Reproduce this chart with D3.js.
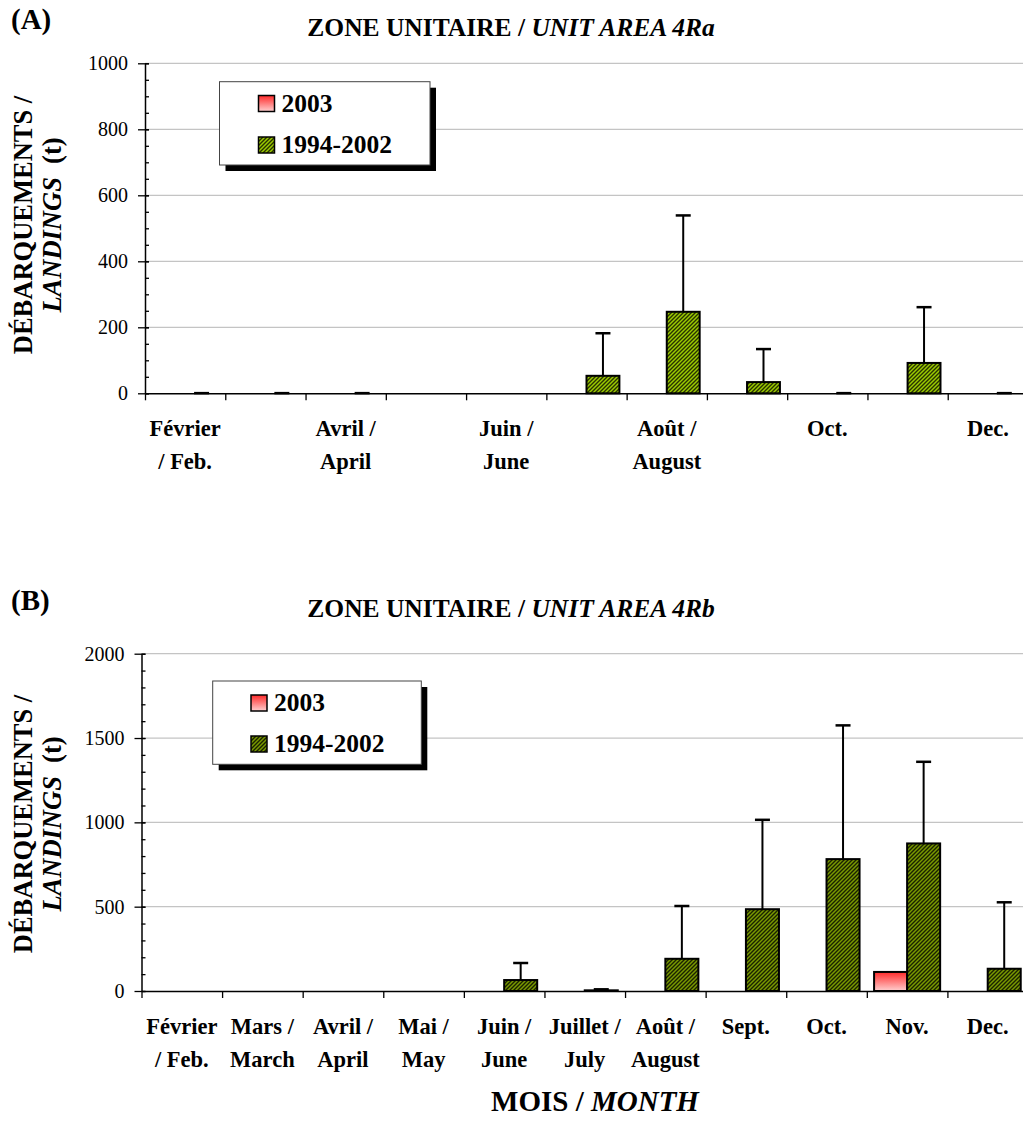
<!DOCTYPE html>
<html>
<head>
<meta charset="utf-8">
<script src="https://cdn.jsdelivr.net/npm/d3@7"></script>
<style>
  html, body { margin: 0; padding: 0; background: #fff; }
  svg { display: block; font-family: "Liberation Serif", "Times New Roman", serif; }
  svg text { font-family: "Liberation Serif", "Times New Roman", serif; }
</style>
</head>
<body>
<svg id="chart" width="1023" height="1123"></svg>
<script>
// Months shown on the x axis (two-line labels)
const monthLines = [
  ["Février", "/ Feb."], ["Mars /", "March"], ["Avril /", "April"], ["Mai /", "May"],
  ["Juin /", "June"], ["Juillet /", "July"], ["Août /", "August"], ["Sept.", ""],
  ["Oct.", ""], ["Nov.", ""], ["Dec.", ""]
];

// Unit area 4Ra: monthly landings (t)
const landingsA2003 = [null, null, null, null, null, null, null, null, null, null, null];
const meanA9402     = [0, 0, 0, null, null, 53, 247, 34, 0, 92, 0];
const sdA9402       = [0.5, 0.5, 0.5, null, null, 129, 292, 100, 0.5, 169, 0.5];
const yTicksA = [0, 200, 400, 600, 800, 1000];

// Unit area 4Rb: monthly landings (t)
const landingsB2003 = [null, null, null, null, null, null, null, null, null, 113, null];
const meanB9402     = [null, null, null, null, 65, 4, 191, 485, 782, 875, 132];
const sdB9402       = [null, null, null, null, 101, 6, 313, 530, 793, 484, 394];
const yTicksB = [0, 500, 1000, 1500, 2000];

const seriesNames = ["2003", "1994-2002"];

const SERIF = "Liberation Serif, Times New Roman, serif";

const svg = d3.select("#chart");
svg.append("rect").attr("width", 1023).attr("height", 1123).attr("fill", "#fff");

const defs = svg.append("defs");

// Vertical red-to-pink gradient for the 2003 series
const grad = defs.append("linearGradient").attr("id", "grad2003")
  .attr("x1", 0).attr("y1", 0).attr("x2", 0).attr("y2", 1);
grad.append("stop").attr("offset", "0%").attr("stop-color", "#ff2a2a");
grad.append("stop").attr("offset", "100%").attr("stop-color", "#ffd0d0");

// Upward diagonal hatching for the 1994-2002 series
function hatch(id, light, dark) {
  const p = defs.append("pattern").attr("id", id)
    .attr("patternUnits", "userSpaceOnUse").attr("width", 4).attr("height", 4);
  p.append("rect").attr("width", 4).attr("height", 4).attr("fill", light);
  p.append("path").attr("d", "M-1,1 L1,-1 M0,4 L4,0 M3,5 L5,3")
    .attr("stroke", dark).attr("stroke-width", 1.4);
}
hatch("hatchA", "#9ccc00", "#283200");
hatch("hatchB", "#7a9a00", "#1a2200");

function drawPanel(o) {
  const g = svg.append("g");
  const n = monthLines.length;
  const x = d3.scaleBand().domain(d3.range(n)).range([o.x0, o.x1]).paddingInner(0).paddingOuter(0);
  const xb = d3.scaleLinear().domain([0, n]).range([o.x0, o.x1]);
  const sub = d3.scaleBand().domain([0, 1]).range([0, x.bandwidth()]).paddingOuter(0.22).paddingInner(0);
  const y = d3.scaleLinear().domain([0, o.yMax]).range([o.yBottom, o.yTop]);

  // Panel letter and title
  g.append("text").attr("x", 11).attr("y", o.yTitle - 7)
    .attr("font-size", 29).attr("font-weight", "bold").text(o.letter);
  const t = g.append("text").attr("x", 511).attr("y", o.yTitle)
    .attr("text-anchor", "middle").attr("font-size", 25.5).attr("font-weight", "bold");
  t.append("tspan").text("ZONE UNITAIRE / ");
  t.append("tspan").attr("font-style", "italic").text(o.area);

  // Gridlines
  g.append("g").selectAll("line").data(o.ticks.filter(d => d > 0)).join("line")
    .attr("x1", o.x0).attr("x2", o.x1)
    .attr("y1", d => y(d)).attr("y2", d => y(d))
    .attr("stroke", "#c4c4c4").attr("stroke-width", 1.3);

  // Minor y ticks
  g.append("g").attr("transform", `translate(${o.x0},0)`)
    .call(d3.axisLeft(y).tickValues(d3.range(0, o.yMax + 1, o.minor)).tickSize(-4).tickFormat(""))
    .call(a => a.select(".domain").remove())
    .call(a => a.selectAll("line").attr("stroke", "#000").attr("stroke-width", 1.3));

  // Major y ticks and labels
  g.append("g").attr("transform", `translate(${o.x0},0)`)
    .call(d3.axisLeft(y).tickValues(o.ticks).tickSize(7).tickPadding(10).tickSizeOuter(0).tickFormat(d3.format("d")))
    .attr("font-family", SERIF).attr("font-size", 20)
    .call(a => a.select(".domain").attr("stroke", "#000").attr("stroke-width", 1.5))
    .call(a => a.selectAll(".tick line").attr("x1", 4).attr("stroke", "#000").attr("stroke-width", 1.3))
    .call(a => a.selectAll("text").attr("fill", "#000"));

  // Y axis title
  const yc = o.yLabelCenter;
  g.append("text").attr("transform", `translate(32,${yc}) rotate(-90)`)
    .attr("text-anchor", "middle").attr("font-size", 26.5).attr("font-weight", "bold")
    .text("DÉBARQUEMENTS /");
  const yl = g.append("text").attr("transform", `translate(61,${yc}) rotate(-90)`)
    .attr("text-anchor", "middle").attr("font-size", 26.5).attr("font-weight", "bold");
  yl.append("tspan").attr("font-style", "italic").text("LANDINGS");
  yl.append("tspan").text("\u00a0\u00a0(t)");

  // Bars: 2003
  const cat = d3.range(n);
  g.append("g").selectAll("rect").data(cat.filter(i => o.s2003[i] != null && o.s2003[i] > 0)).join("rect")
    .attr("x", i => x(i) + sub(0)).attr("width", sub.bandwidth())
    .attr("y", i => y(o.s2003[i])).attr("height", i => y(0) - y(o.s2003[i]))
    .attr("fill", "url(#grad2003)").attr("stroke", "#000").attr("stroke-width", 2);

  // Bars: 1994-2002 mean
  g.append("g").selectAll("rect").data(cat.filter(i => o.mean[i] != null && o.mean[i] > 0)).join("rect")
    .attr("x", i => x(i) + sub(1)).attr("width", sub.bandwidth())
    .attr("y", i => y(o.mean[i])).attr("height", i => y(0) - y(o.mean[i]))
    .attr("fill", `url(#${o.hatch})`).attr("stroke", "#000").attr("stroke-width", 2);

  // Upper error bars (mean + SD)
  const eb = g.append("g").selectAll("g").data(cat.filter(i => o.mean[i] != null)).join("g");
  const cx = i => x(i) + sub(1) + sub.bandwidth() / 2;
  eb.append("line").attr("x1", cx).attr("x2", cx)
    .attr("y1", i => y(o.mean[i])).attr("y2", i => y(o.mean[i] + o.sd[i]))
    .attr("stroke", "#000").attr("stroke-width", 2);
  eb.append("line").attr("x1", i => cx(i) - 7.5).attr("x2", i => cx(i) + 7.5)
    .attr("y1", i => y(o.mean[i] + o.sd[i])).attr("y2", i => y(o.mean[i] + o.sd[i]))
    .attr("stroke", "#000").attr("stroke-width", 2.5);

  // X axis with ticks at month boundaries
  g.append("g").attr("transform", `translate(0,${o.yBottom})`)
    .call(d3.axisBottom(xb).tickValues(d3.range(n + 1)).tickSize(7).tickSizeOuter(0).tickFormat(""))
    .call(a => a.select(".domain").attr("stroke", "#000").attr("stroke-width", 1.5))
    .call(a => a.selectAll(".tick line").attr("stroke", "#000").attr("stroke-width", 1.3));

  // Month labels
  const lab = g.append("g").selectAll("text").data(cat.filter(i => i % o.labelEvery === 0)).join("text")
    .attr("text-anchor", "middle").attr("font-size", 22.5).attr("font-weight", "bold");
  lab.append("tspan").attr("x", i => x(i) + x.bandwidth() / 2).attr("y", o.yBottom + 43).text(i => monthLines[i][0]);
  lab.append("tspan").attr("x", i => x(i) + x.bandwidth() / 2).attr("y", o.yBottom + 76).text(i => monthLines[i][1]);

  // Legend with drop shadow
  const L = o.legend;
  g.append("rect").attr("x", L.x + 6).attr("y", L.y + 6).attr("width", L.w).attr("height", L.h).attr("fill", "#000");
  g.append("rect").attr("x", L.x).attr("y", L.y).attr("width", L.w).attr("height", L.h)
    .attr("fill", "#fff").attr("stroke", "#444").attr("stroke-width", 1);
  const fills = ["url(#grad2003)", `url(#${o.hatch})`];
  seriesNames.forEach((s, k) => {
    g.append("rect").attr("x", L.sx).attr("y", L.rows[k] - 16).attr("width", 16).attr("height", 16)
      .attr("fill", fills[k]).attr("stroke", "#000").attr("stroke-width", 1.5);
    g.append("text").attr("x", L.sx + 23).attr("y", L.rows[k]).attr("font-size", 25.5)
      .attr("font-weight", "bold").text(s);
  });
}

drawPanel({
  letter: "(A)", area: "UNIT AREA 4Ra", yTitle: 36,
  x0: 145, x1: 1028, yTop: 63.3, yBottom: 393.3, yMax: 1000, ticks: yTicksA, minor: 50,
  s2003: landingsA2003, mean: meanA9402, sd: sdA9402, hatch: "hatchA",
  labelEvery: 2, yLabelCenter: 225,
  legend: { x: 219.5, y: 81.7, w: 210.5, h: 83.3, sx: 258.5, rows: [111.5, 153] }
});

drawPanel({
  letter: "(B)", area: "UNIT AREA 4Rb", yTitle: 617,
  x0: 141.5, x1: 1028, yTop: 653.7, yBottom: 991, yMax: 2000, ticks: yTicksB, minor: 100,
  s2003: landingsB2003, mean: meanB9402, sd: sdB9402, hatch: "hatchB",
  labelEvery: 1, yLabelCenter: 824,
  legend: { x: 212.7, y: 681, w: 208.6, h: 83.3, sx: 251, rows: [711, 752] }
});

// Shared x axis title
const xt = svg.append("text").attr("x", 595).attr("y", 1111).attr("text-anchor", "middle")
  .attr("font-size", 29).attr("font-weight", "bold");
xt.append("tspan").text("MOIS / ");
xt.append("tspan").attr("font-style", "italic").text("MONTH");
</script>
</body>
</html>
